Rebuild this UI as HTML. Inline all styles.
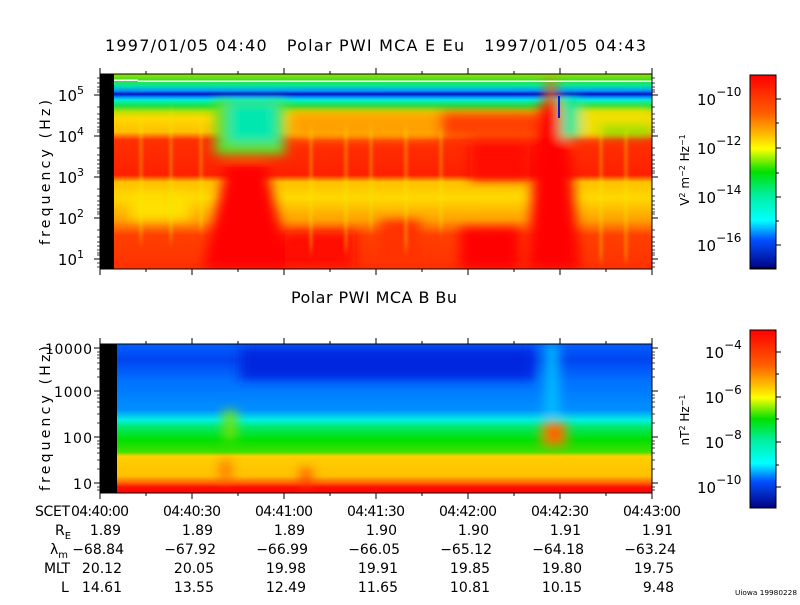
<!DOCTYPE html>
<html><head><meta charset="utf-8"><style>
body{margin:0;background:#fff;}
svg text{font-family:"DejaVu Sans","Liberation Sans",sans-serif;fill:#000;white-space:pre;}
</style></head><body>
<svg width="800" height="600" viewBox="0 0 800 600" xmlns="http://www.w3.org/2000/svg">
<defs>
<linearGradient id="gt" x1="0" y1="0" x2="0" y2="1">
<stop offset="0" stop-color="#a0e000"/><stop offset="0.03" stop-color="#40e020"/>
<stop offset="0.06" stop-color="#00e8a0"/><stop offset="0.087" stop-color="#0090ff"/>
<stop offset="0.103" stop-color="#0010c0"/><stop offset="0.118" stop-color="#0090ff"/>
<stop offset="0.133" stop-color="#00f0d0"/><stop offset="0.164" stop-color="#20e040"/>
<stop offset="0.195" stop-color="#c0e000"/><stop offset="0.226" stop-color="#ffd800"/>
<stop offset="0.297" stop-color="#ffc000"/><stop offset="0.338" stop-color="#ff3000"/>
<stop offset="0.518" stop-color="#ff2000"/><stop offset="0.554" stop-color="#ffc000"/>
<stop offset="0.636" stop-color="#ffd800"/><stop offset="0.749" stop-color="#ffa000"/>
<stop offset="0.826" stop-color="#ff4000"/><stop offset="1" stop-color="#ff3000"/>
</linearGradient>
<linearGradient id="gb" x1="0" y1="0" x2="0" y2="1">
<stop offset="0" stop-color="#0060ff"/><stop offset="0.107" stop-color="#0045f0"/>
<stop offset="0.242" stop-color="#0070ff"/><stop offset="0.443" stop-color="#0090ff"/>
<stop offset="0.51" stop-color="#00f0e0"/><stop offset="0.564" stop-color="#00e860"/>
<stop offset="0.644" stop-color="#00e000"/><stop offset="0.725" stop-color="#40e000"/>
<stop offset="0.752" stop-color="#ffd000"/><stop offset="0.886" stop-color="#ffc000"/>
<stop offset="0.933" stop-color="#ff6000"/><stop offset="0.96" stop-color="#ff1000"/>
<stop offset="1" stop-color="#ff0000"/>
</linearGradient>
<linearGradient id="cb1" x1="0" y1="0" x2="0" y2="1">
<stop offset="0" stop-color="#ff0000"/><stop offset="0.2" stop-color="#ff6000"/>
<stop offset="0.33" stop-color="#ffd000"/><stop offset="0.38" stop-color="#ffff00"/>
<stop offset="0.5" stop-color="#00e000"/><stop offset="0.62" stop-color="#00f0a0"/>
<stop offset="0.75" stop-color="#00ffff"/><stop offset="0.85" stop-color="#0050ff"/>
<stop offset="1" stop-color="#000080"/>
</linearGradient>
<clipPath id="ct"><rect x="100" y="74" width="552" height="195"/></clipPath>
<clipPath id="cbt"><rect x="100" y="344" width="552" height="149"/></clipPath>
<filter id="bl" x="-30%" y="-30%" width="160%" height="160%"><feGaussianBlur stdDeviation="6 5"/></filter>
<filter id="bl2" x="-50%" y="-20%" width="200%" height="140%"><feGaussianBlur stdDeviation="1.5 5"/></filter>
</defs>

<g clip-path="url(#ct)">
<rect x="100" y="74" width="552" height="195" fill="url(#gt)"/>
<g filter="url(#bl)">
<rect x="290" y="112" width="260" height="26" fill="#ffa000"/>
<rect x="440" y="112" width="100" height="26" fill="#ff4000"/>
<rect x="215" y="100" width="70" height="55" fill="#60e020"/>
<rect x="228" y="102" width="50" height="40" fill="#00e8b0"/>
<polygon points="226,165 266,165 290,269 203,269" fill="#ff0000"/>
<rect x="285" y="232" width="70" height="37" fill="#ff1000"/>
<rect x="460" y="228" width="60" height="41" fill="#ff0000"/>
<rect x="380" y="220" width="40" height="49" fill="#ff3000"/>
<polygon points="542,100 558,100 572,170 580,269 528,269 535,140" fill="#ff0000"/>
<rect x="546" y="80" width="10" height="24" fill="#ff6000"/>
<rect x="561" y="98" width="18" height="40" fill="#00e8a0"/>
<rect x="580" y="110" width="72" height="26" fill="#f0e000"/>
<rect x="600" y="126" width="52" height="10" fill="#80e000"/>
<rect x="470" y="140" width="60" height="40" fill="#ff1000"/>
<rect x="130" y="195" width="60" height="25" fill="#ffe000"/>
</g>
<rect x="558" y="96" width="2" height="22" fill="#0020d0"/>
<g filter="url(#bl2)" opacity="0.55">
<rect x="140" y="120" width="2" height="120" fill="#f0f000"/>
<rect x="170" y="110" width="2" height="130" fill="#e0f000"/>
<rect x="200" y="120" width="2" height="110" fill="#f0f000"/>
<rect x="310" y="130" width="2" height="120" fill="#f0f000"/>
<rect x="345" y="130" width="2" height="120" fill="#f0f000"/>
<rect x="370" y="130" width="2" height="100" fill="#e0f000"/>
<rect x="405" y="130" width="2" height="120" fill="#f0f000"/>
<rect x="440" y="130" width="2" height="100" fill="#f0f000"/>
<rect x="600" y="130" width="2" height="130" fill="#f0f000"/>
<rect x="625" y="130" width="2" height="130" fill="#f0f000"/>
</g>
<rect x="114" y="79.5" width="24" height="1.5" fill="#fff"/>
<rect x="138" y="80.5" width="514" height="1.5" fill="#fff"/>
<rect x="100" y="74" width="14" height="195" fill="#000"/>
</g>
<rect x="100" y="74" width="552" height="195" fill="none" stroke="#000" stroke-width="1"/>

<g clip-path="url(#cbt)">
<rect x="100" y="344" width="552" height="149" fill="url(#gb)"/>
<g filter="url(#bl)">
<rect x="240" y="348" width="295" height="32" fill="#0025e0"/>
<rect x="546" y="344" width="12" height="74" fill="#00c8ff"/>
<rect x="542" y="422" width="24" height="24" fill="#ff9000"/>
<rect x="549" y="426" width="12" height="16" fill="#ff4000"/>
<rect x="224" y="410" width="12" height="30" fill="#80e000"/>
<rect x="222" y="460" width="7" height="22" fill="#ff5000"/>
<rect x="302" y="468" width="8" height="20" fill="#ff3000"/>
</g>
<rect x="100" y="344" width="17" height="149" fill="#000"/>
</g>
<rect x="100" y="344" width="552" height="149" fill="none" stroke="#000" stroke-width="1"/>

<g stroke="#000" stroke-width="1">
<path d="M100,74v-6M192,74v-6M284,74v-6M376,74v-6M468,74v-6M560,74v-6M652,74v-6
M146,74v-3M238,74v-3M330,74v-3M422,74v-3M514,74v-3M606,74v-3
M100,269v6M192,269v6M284,269v6M376,269v6M468,269v6M560,269v6M652,269v6
M146,269v3M238,269v3M330,269v3M422,269v3M514,269v3M606,269v3
M100,344v-6M192,344v-6M284,344v-6M376,344v-6M468,344v-6M560,344v-6M652,344v-6
M146,344v-3M238,344v-3M330,344v-3M422,344v-3M514,344v-3M606,344v-3
M100,493v6M192,493v6M284,493v6M376,493v6M468,493v6M560,493v6M652,493v6
M146,493v3M238,493v3M330,493v3M422,493v3M514,493v3M606,493v3
M100,95h-6M100,136h-6M100,177h-6M100,218h-6M100,259h-6
M652,95h6M652,136h6M652,177h6M652,218h6M652,259h6
M100,348h-6M100,391h-6M100,437h-6M100,483h-6
M652,348h6M652,391h6M652,437h6M652,483h6
M776,99h5M776,148h5M776,197h5M776,245h5M776,123h3M776,173h3M776,221h3
M776,352h5M776,397h5M776,442h5M776,487h5M776,374h3M776,419h3M776,465h3"/>
<path stroke-width="0.8" d="M100,78h-3M100,83h-3M100,87h-3M100,90h-3M100,92h-3M652,78h3M652,83h3M652,87h3M652,90h3M652,92h3
M100,107h-3M100,114h-3M100,119h-3M100,123h-3M100,127h-3M100,130h-3M100,132h-3M652,107h3M652,114h3M652,119h3M652,123h3M652,127h3M652,130h3M652,132h3
M100,148h-3M100,155h-3M100,160h-3M100,164h-3M100,168h-3M100,171h-3M100,173h-3M652,148h3M652,155h3M652,160h3M652,164h3M652,168h3M652,171h3M652,173h3
M100,189h-3M100,196h-3M100,201h-3M100,205h-3M100,209h-3M100,212h-3M100,214h-3M652,189h3M652,196h3M652,201h3M652,205h3M652,209h3M652,212h3M652,214h3
M100,230h-3M100,237h-3M100,242h-3M100,246h-3M100,250h-3M100,253h-3M100,255h-3M652,230h3M652,237h3M652,242h3M652,246h3M652,250h3M652,253h3M652,255h3
M100,263h-3M100,267h-3M652,263h3M652,267h3
M100,352h-3M100,355h-3M100,358h-3M100,363h-3M100,369h-3M100,377h-3M652,352h3M652,355h3M652,358h3M652,363h3M652,369h3M652,377h3
M100,395h-3M100,398h-3M100,402h-3M100,407h-3M100,414h-3M100,423h-3M652,395h3M652,398h3M652,402h3M652,407h3M652,414h3M652,423h3
M100,441h-3M100,444h-3M100,448h-3M100,453h-3M100,460h-3M100,469h-3M652,441h3M652,444h3M652,448h3M652,453h3M652,460h3M652,469h3
M100,487h-3M100,490h-3M652,487h3M652,490h3"/>
</g>

<rect x="750" y="75" width="26" height="194" fill="url(#cb1)" stroke="#000" stroke-width="1"/>
<rect x="750" y="267" width="26" height="2" fill="#000"/>
<rect x="750" y="330" width="26" height="178" fill="url(#cb1)" stroke="#000" stroke-width="1"/>

<text x="105" y="51" font-size="16" textLength="541" lengthAdjust="spacing">1997/01/05 04:40   Polar PWI MCA E Eu   1997/01/05 04:43</text>
<text x="291" y="303" font-size="16" textLength="166" lengthAdjust="spacing">Polar PWI MCA B Bu</text>
<g font-size="15" text-anchor="end">
<text x="84" y="101">10<tspan dy="-7" font-size="11">5</tspan></text>
<text x="84" y="142">10<tspan dy="-7" font-size="11">4</tspan></text>
<text x="84" y="183">10<tspan dy="-7" font-size="11">3</tspan></text>
<text x="84" y="224">10<tspan dy="-7" font-size="11">2</tspan></text>
<text x="84" y="265">10<tspan dy="-7" font-size="11">1</tspan></text>
</g>
<g font-size="14">
<text x="45" y="354" textLength="47" lengthAdjust="spacing">10000</text>
<text x="54" y="397" textLength="38" lengthAdjust="spacing">1000</text>
<text x="63" y="443" textLength="29" lengthAdjust="spacing">100</text>
<text x="73" y="489" textLength="19" lengthAdjust="spacing">10</text>
</g>
<text transform="translate(50,245) rotate(-90)" font-size="14" textLength="145" lengthAdjust="spacing">frequency (Hz)</text>
<text transform="translate(50,491) rotate(-90)" font-size="14" textLength="145" lengthAdjust="spacing">frequency (Hz)</text>
<g font-size="15">
<text x="697" y="105">10<tspan dy="-9" font-size="12">−10</tspan></text>
<text x="697" y="154">10<tspan dy="-9" font-size="12">−12</tspan></text>
<text x="697" y="203">10<tspan dy="-9" font-size="12">−14</tspan></text>
<text x="697" y="251">10<tspan dy="-9" font-size="12">−16</tspan></text>
<text x="705" y="358">10<tspan dy="-9" font-size="12">−4</tspan></text>
<text x="705" y="403">10<tspan dy="-9" font-size="12">−6</tspan></text>
<text x="705" y="448">10<tspan dy="-9" font-size="12">−8</tspan></text>
<text x="697" y="493">10<tspan dy="-9" font-size="12">−10</tspan></text>
</g>
<text transform="translate(689,170) rotate(-90)" font-size="12" text-anchor="middle">V<tspan dy="-4" font-size="8">2</tspan><tspan dy="4"> m</tspan><tspan dy="-4" font-size="8">−2</tspan><tspan dy="4"> Hz</tspan><tspan dy="-4" font-size="8">−1</tspan></text>
<text transform="translate(689,420) rotate(-90)" font-size="12" text-anchor="middle">nT<tspan dy="-4" font-size="8">2</tspan><tspan dy="4"> Hz</tspan><tspan dy="-4" font-size="8">−1</tspan></text>

<g font-size="14">
<text x="35" y="516" textLength="35" lengthAdjust="spacing">SCET</text>
<text x="71" y="516" textLength="58" lengthAdjust="spacing">04:40:00</text>
<text x="163" y="516" textLength="58" lengthAdjust="spacing">04:40:30</text>
<text x="255" y="516" textLength="58" lengthAdjust="spacing">04:41:00</text>
<text x="347" y="516" textLength="58" lengthAdjust="spacing">04:41:30</text>
<text x="439" y="516" textLength="58" lengthAdjust="spacing">04:42:00</text>
<text x="531" y="516" textLength="58" lengthAdjust="spacing">04:42:30</text>
<text x="623" y="516" textLength="58" lengthAdjust="spacing">04:43:00</text>
<text x="55" y="535">R<tspan dy="4" font-size="10">E</tspan></text>
<text x="50" y="554">λ<tspan dy="4" font-size="10">m</tspan></text>
<text x="44" y="573" textLength="26" lengthAdjust="spacing">MLT</text>
<text x="61" y="592">L</text>
<g text-anchor="end">
<text x="121" y="535">1.89</text><text x="213" y="535">1.89</text><text x="305" y="535">1.89</text><text x="397" y="535">1.90</text><text x="489" y="535">1.90</text><text x="581" y="535">1.91</text><text x="673" y="535">1.91</text>
<text x="124" y="554">−68.84</text><text x="216" y="554">−67.92</text><text x="308" y="554">−66.99</text><text x="400" y="554">−66.05</text><text x="492" y="554">−65.12</text><text x="584" y="554">−64.18</text><text x="676" y="554">−63.24</text>
<text x="122" y="573">20.12</text><text x="214" y="573">20.05</text><text x="306" y="573">19.98</text><text x="398" y="573">19.91</text><text x="490" y="573">19.85</text><text x="582" y="573">19.80</text><text x="674" y="573">19.75</text>
<text x="122" y="592">14.61</text><text x="214" y="592">13.55</text><text x="306" y="592">12.49</text><text x="398" y="592">11.65</text><text x="490" y="592">10.81</text><text x="582" y="592">10.15</text><text x="674" y="592">9.48</text>
</g>
</g>
<text x="735" y="595" font-size="7" textLength="62" lengthAdjust="spacingAndGlyphs">Uiowa 19980228</text>
</svg>
</body></html>
